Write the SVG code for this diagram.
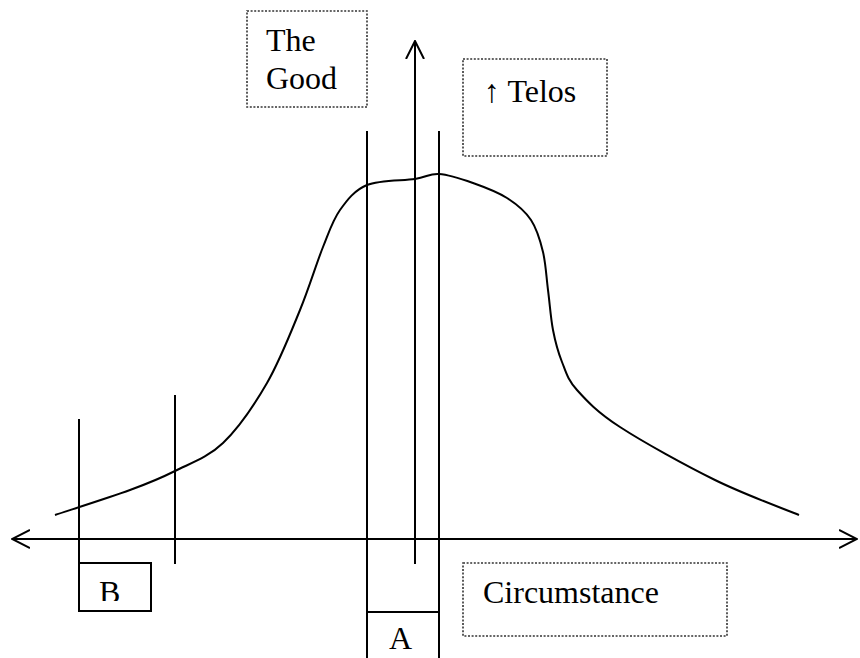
<svg xmlns="http://www.w3.org/2000/svg" width="860" height="658" viewBox="0 0 860 658">
<style>
.ln{fill:none;stroke:#000;stroke-width:2}
.dot{fill:#fff;stroke:#333;stroke-width:1.6;stroke-dasharray:2 1.6}
.box{fill:#fff;stroke:#000;stroke-width:2}
.t{font-family:"Liberation Serif","Times New Roman",serif;font-size:32px;fill:#000}
</style>
<defs>
<marker id="ah" viewBox="0 0 19 20" refX="18" refY="10" markerWidth="19" markerHeight="20" markerUnits="userSpaceOnUse" orient="auto-start-reverse">
<path d="M0,1 L18,10 L0,19" fill="none" stroke="#000" stroke-width="2"/>
</marker>
<clipPath id="clipB"><rect x="80" y="564" width="70" height="37"/></clipPath>
</defs>
<rect width="860" height="658" fill="#fff"/>
<g id="connectors">
<path id="curve" class="ln" d="M55,515 C67.5,510.8 110,497.3 130,490 C150,482.7 159.5,478.8 175,471 C190.5,463.2 207.7,457.7 223,443 C238.3,428.3 254.2,405.2 267,383 C279.8,360.8 290.7,332.7 300,310 C309.3,287.3 316.3,263.7 323,247 C329.7,230.3 332.7,220.3 340,210 C347.3,199.7 354.5,190.2 367,185 C379.5,179.8 403,180.8 415,179 C427,177.2 429.3,173.3 439,174 C448.7,174.7 461.7,179 473,183 C484.3,187 497.3,191.8 507,198 C516.7,204.2 525,211 531,220 C537,229 540.2,240.3 543,252 C545.8,263.7 546.3,277 548,290 C549.7,303 550.7,318 553,330 C555.3,342 558,352 562,362 C566,372 567.3,379.2 577,390 C586.7,400.8 597,412 620,427 C643,442 685.2,465.3 715,480 C744.8,494.7 785,509.2 799,515"/>
<line id="axis" class="ln" x1="12" y1="539" x2="857" y2="539" marker-start="url(#ah)" marker-end="url(#ah)"/>
<line id="telos-arrow" class="ln" x1="415" y1="564" x2="415" y2="41" marker-end="url(#ah)"/>
<line class="ln" x1="79" y1="419" x2="79" y2="564"/>
<line class="ln" x1="175" y1="395" x2="175" y2="564"/>
<line class="ln" x1="367" y1="131" x2="367" y2="658"/>
<line class="ln" x1="439" y1="131" x2="439" y2="658"/>
<line class="ln" x1="367" y1="612" x2="439" y2="612"/>
</g>
<g id="the-good">
<rect class="dot" x="247" y="11" width="120" height="96"/>
<text class="t" x="266" y="51">The</text>
<text class="t" x="266" y="89">Good</text>
</g>
<g id="telos">
<rect class="dot" x="463" y="59" width="144" height="97"/>
<text class="t" x="484" y="102">↑ Telos</text>
</g>
<g id="circumstance">
<rect class="dot" x="463" y="563" width="264" height="73"/>
<text class="t" x="483" y="603">Circumstance</text>
</g>
<g id="b">
<rect class="box" x="79" y="563" width="72" height="48"/>
<text class="t" x="99" y="603" clip-path="url(#clipB)">B</text>
</g>
<g id="a">
<text class="t" x="389" y="649">A</text>
</g>
</svg>
